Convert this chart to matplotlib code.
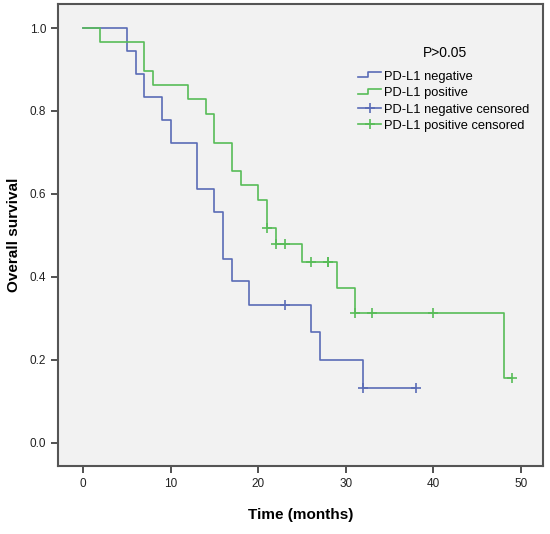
import matplotlib
matplotlib.use('Agg')
import matplotlib.pyplot as plt
from matplotlib.lines import Line2D
from matplotlib.legend_handler import HandlerBase
import numpy as np

plt.rcParams['font.family'] = ['Liberation Sans', 'DejaVu Sans']

# Kaplan-Meier steps
neg_times = [0, 5, 6, 7, 9, 10, 13, 15, 16, 17, 19, 26, 27, 32, 38]
neg_surv = [1.0, 0.944, 0.889, 0.833, 0.778, 0.722, 0.611, 0.556, 0.444,
            0.389, 0.333, 0.267, 0.2, 0.133, 0.133]
neg_censor = [23, 32, 38]

pos_times = [0, 2, 7, 8, 12, 14, 15, 17, 18, 20, 21, 22, 25, 29, 31, 48, 49]
pos_surv = [1.0, 0.966, 0.897, 0.862, 0.828, 0.793, 0.724, 0.655, 0.621,
            0.586, 0.517, 0.480, 0.436, 0.374, 0.312, 0.156, 0.156]
pos_censor = [21, 22, 23, 26, 28, 28, 31, 33, 40, 49]

x_ticks = [0, 10, 20, 30, 40, 50]
y_ticks = [0.0, 0.2, 0.4, 0.6, 0.8, 1.0]

blue = '#5a6cb6'
green = '#58bc58'


def surv_at(times, surv, t):
    idx = np.searchsorted(times, t, side='right') - 1
    return surv[idx]


class HandlerStep(HandlerBase):
    # little step glyph, low on the left and high on the right
    def create_artists(self, legend, orig, xd, yd, w, h, fs, trans):
        xs = [-xd, -xd + w * 0.45, -xd + w * 0.45, -xd + w]
        ys = [h * 0.3 - yd, h * 0.3 - yd, h * 0.85 - yd, h * 0.85 - yd]
        ln = Line2D(xs, ys, color=orig.get_color(), lw=orig.get_linewidth())
        ln.set_transform(trans)
        return [ln]


fig = plt.figure(figsize=(5.5, 5.34), dpi=100)
ax = fig.add_axes([58 / 550, 68 / 534, 485 / 550, 462 / 534])
ax.set_facecolor('#f2f2f2')

l_neg, = ax.step(neg_times, neg_surv, where='post', color=blue, lw=1.2)
l_pos, = ax.step(pos_times, pos_surv, where='post', color=green, lw=1.2)
ax.plot(neg_censor, [surv_at(neg_times, neg_surv, t) for t in neg_censor],
        '+', color=blue, ms=7, mew=1.2)
ax.plot(pos_censor, [surv_at(pos_times, pos_surv, t) for t in pos_censor],
        '+', color=green, ms=7, mew=1.2)

ax.set_xlim(-2.85, 52.5)
ax.set_ylim(-0.056, 1.058)
ax.set_xticks(x_ticks)
ax.set_yticks(y_ticks)
ax.set_yticklabels(['%.1f' % v for v in y_ticks])
ax.tick_params(direction='out', length=5, width=1.2, color='#333333',
               labelsize=8.5, labelcolor='#222222')
for s in ax.spines.values():
    s.set_color('#555555')
    s.set_linewidth(1.5)

ax.set_xlabel('Time (months)', fontsize=11, fontweight='bold', labelpad=13)
ax.set_ylabel('Overall survival', fontsize=11, fontweight='bold', labelpad=6)

h_neg_c = Line2D([], [], color=blue, marker='+', ms=7, mew=1.2, lw=1.2)
h_pos_c = Line2D([], [], color=green, marker='+', ms=7, mew=1.2, lw=1.2)
fig.legend([l_neg, l_pos, h_neg_c, h_pos_c],
           ['PD-L1 negative', 'PD-L1 positive',
            'PD-L1 negative censored', 'PD-L1 positive censored'],
           handler_map={l_neg: HandlerStep(), l_pos: HandlerStep()},
           loc='upper left', bbox_to_anchor=(358 / 550, 1 - 71 / 534),
           frameon=False, fontsize=9.3, handlelength=1.8, handletextpad=0.2,
           labelspacing=0.33, borderpad=0, borderaxespad=0, numpoints=1)
fig.text(445 / 550, 1 - 53 / 534, 'P>0.05', ha='center', va='center', fontsize=10)

fig.savefig('out.png', dpi=100)
